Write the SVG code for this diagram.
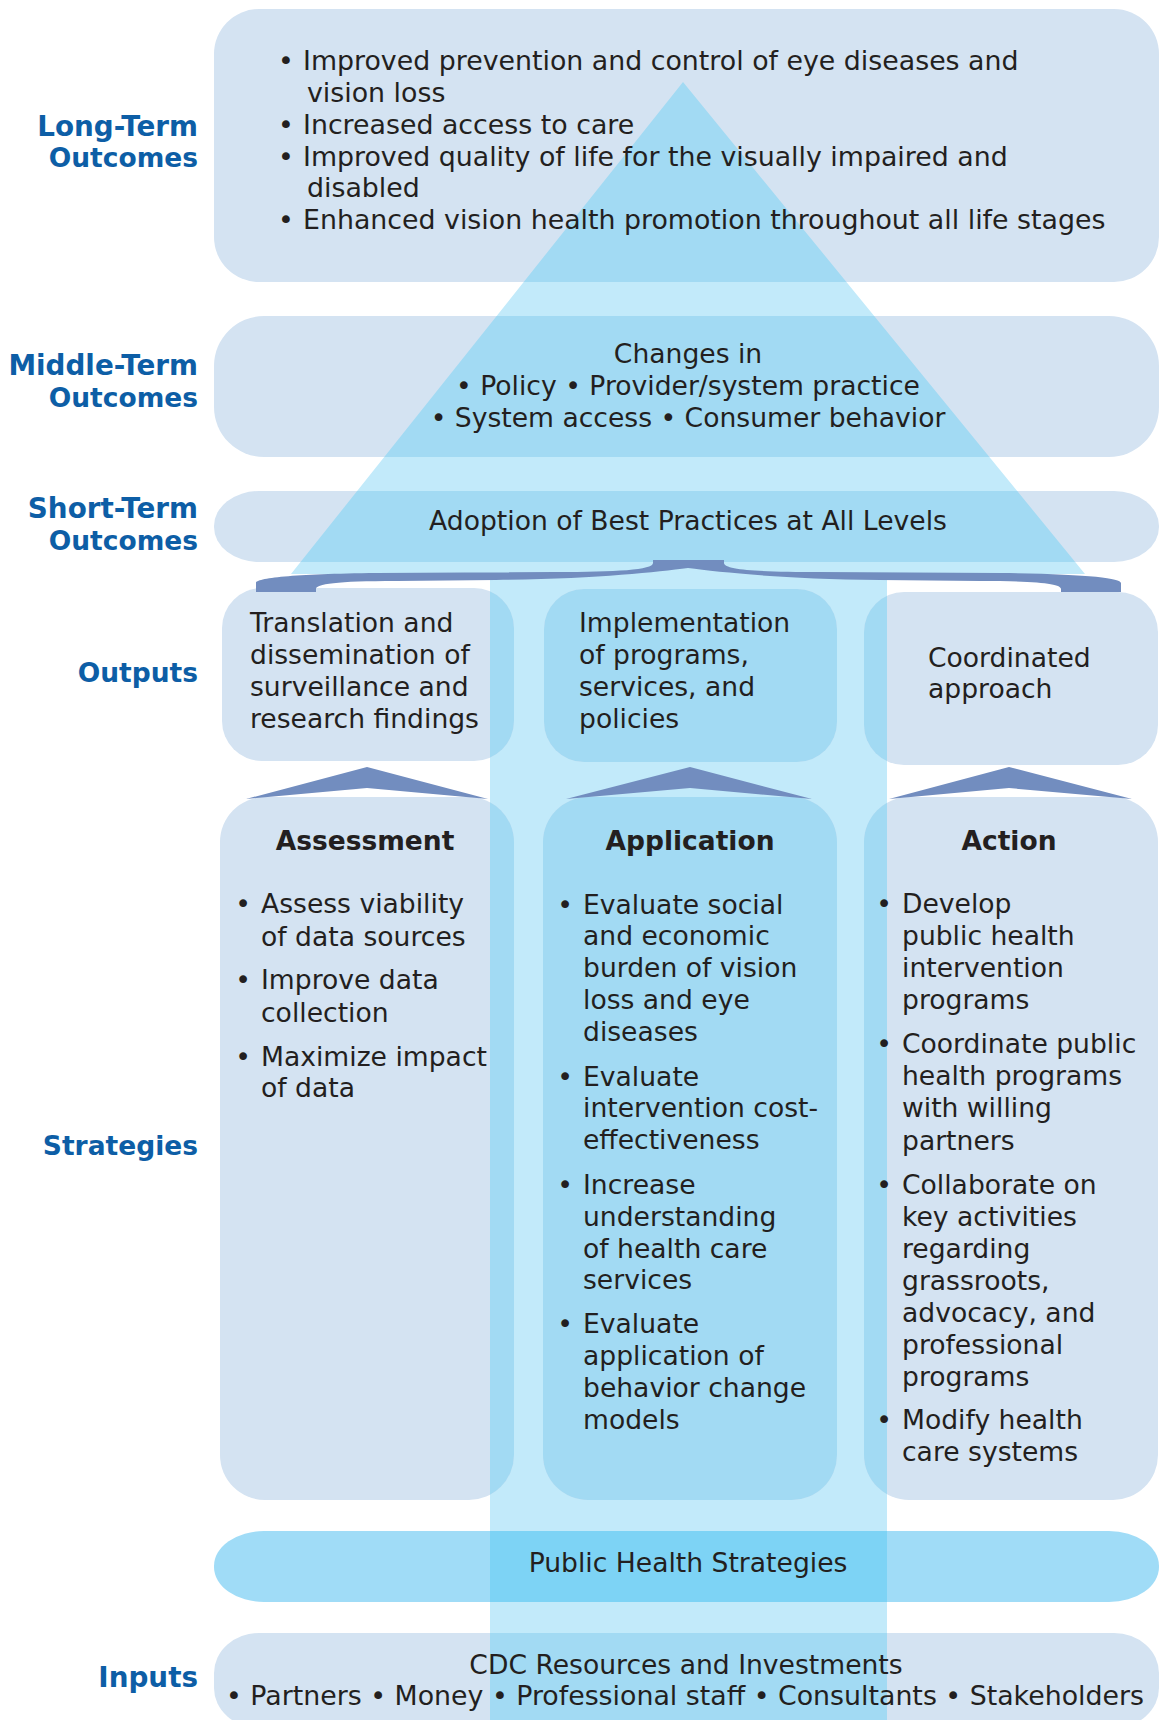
<svg xmlns="http://www.w3.org/2000/svg" xmlns:xlink="http://www.w3.org/1999/xlink" width="1160" height="1720" viewBox="0 0 1160 1720">
<style>
  .arrow { fill: #c2eafa; }
  .box { fill: #d4e3f2; }
  .ov { fill: #a2daf3; }
  .phs { fill: #a0dcf7; }
  .phsov { fill: #7dd3f5; }
  .conn { fill: #728dbf; }
  text { font-family: "DejaVu Sans", Verdana, "Liberation Sans", sans-serif; font-size: 26.6px; fill: #231f20; }
  .lbl { font-weight: bold; font-size: 27.8px; fill: #0d5ea6; text-anchor: end; }
  .lbl.n { font-size: 26.5px; }
  .hd { font-weight: bold; font-size: 26.5px; text-anchor: middle; }
  .c { text-anchor: middle; }
  .b { text-anchor: middle; }
  .wide { font-size: 26.8px; }
</style>
<defs>
  <clipPath id="arrowClip">
    <path d="M 683,82 L 1085,574 L 887,574 L 887,1720 L 490,1720 L 490,574 L 291,574 Z"/>
  </clipPath>
  <rect id="s-lt" x="214" y="9" width="945" height="273" rx="45" ry="45"/>
  <rect id="s-mt" x="214" y="316" width="945" height="141" rx="50" ry="50"/>
  <rect id="s-st" x="214" y="491" width="945" height="71" rx="45" ry="35"/>
  <rect id="s-o1" x="222" y="588" width="292" height="173" rx="40" ry="40"/>
  <rect id="s-o2" x="544" y="589" width="293" height="173" rx="40" ry="40"/>
  <rect id="s-o3" x="864" y="592" width="294" height="173" rx="40" ry="40"/>
  <rect id="s-s1" x="220" y="797" width="294" height="703" rx="45" ry="45"/>
  <rect id="s-s2" x="543" y="797" width="294" height="703" rx="45" ry="45"/>
  <rect id="s-s3" x="864" y="797" width="294" height="703" rx="45" ry="45"/>
  <rect id="s-ph" x="214" y="1531" width="945" height="71" rx="50" ry="35"/>
  <rect id="s-in" x="214" y="1633" width="945" height="95" rx="45" ry="40"/>
</defs>

<path id="arrow" class="arrow" d="M 683,82 L 1085,574 L 887,574 L 887,1720 L 490,1720 L 490,574 L 291,574 Z"/>

<text class="lbl" x="198" y="136">Long-Term</text>
<text class="lbl n" x="198" y="167">Outcomes</text>
<text class="lbl" x="198" y="375">Middle-Term</text>
<text class="lbl n" x="198" y="407">Outcomes</text>
<text class="lbl" x="198" y="518">Short-Term</text>
<text class="lbl n" x="198" y="550">Outcomes</text>
<text class="lbl n" x="198" y="682">Outputs</text>
<text class="lbl n" x="198" y="1155">Strategies</text>
<text class="lbl" x="198" y="1687">Inputs</text>

<g id="long-term">
  <use href="#s-lt" class="box"/>
  <g clip-path="url(#arrowClip)"><use href="#s-lt" class="ov"/></g>
  <text class="b wide" x="286" y="70">•</text>
  <text class="wide" x="303" y="70">Improved prevention and control of eye diseases and</text>
  <text class="wide" x="307" y="102">vision loss</text>
  <text class="b wide" x="286" y="134">•</text>
  <text class="wide" x="303" y="134">Increased access to care</text>
  <text class="b wide" x="286" y="166">•</text>
  <text class="wide" x="303" y="166">Improved quality of life for the visually impaired and</text>
  <text class="wide" x="307" y="197">disabled</text>
  <text class="b wide" x="286" y="229">•</text>
  <text class="wide" x="303" y="229">Enhanced vision health promotion throughout all life stages</text>
</g>

<g id="middle-term">
  <use href="#s-mt" class="box"/>
  <g clip-path="url(#arrowClip)"><use href="#s-mt" class="ov"/></g>
  <text class="c" x="688" y="363">Changes in</text>
  <text class="c" x="688" y="395">• Policy • Provider/system practice</text>
  <text class="c" x="688" y="427">• System access • Consumer behavior</text>
</g>

<g id="short-term">
  <use href="#s-st" class="box"/>
  <g clip-path="url(#arrowClip)"><use href="#s-st" class="ov"/></g>
  <text class="c" x="688" y="530">Adoption of Best Practices at All Levels</text>
</g>

<g id="output-translation">
  <use href="#s-o1" class="box"/>
  <g clip-path="url(#arrowClip)"><use href="#s-o1" class="ov"/></g>
  <text x="250" y="632">Translation and</text>
  <text x="250" y="664">dissemination of</text>
  <text x="250" y="696">surveillance and</text>
  <text x="250" y="728">research findings</text>
</g>

<g id="output-implementation">
  <use href="#s-o2" class="box"/>
  <g clip-path="url(#arrowClip)"><use href="#s-o2" class="ov"/></g>
  <text x="579" y="632">Implementation</text>
  <text x="579" y="664">of programs,</text>
  <text x="579" y="696">services, and</text>
  <text x="579" y="728">policies</text>
</g>

<g id="output-coordinated">
  <use href="#s-o3" class="box"/>
  <g clip-path="url(#arrowClip)"><use href="#s-o3" class="ov"/></g>
  <text x="928" y="667">Coordinated</text>
  <text x="928" y="698">approach</text>
</g>

<g id="strategy-assessment">
  <use href="#s-s1" class="box"/>
  <g clip-path="url(#arrowClip)"><use href="#s-s1" class="ov"/></g>
  <text class="hd" x="365" y="850">Assessment</text>
  <text class="b" x="243" y="913">•</text>
  <text x="261" y="913">Assess viability</text>
  <text x="261" y="946">of data sources</text>
  <text class="b" x="243" y="989">•</text>
  <text x="261" y="989">Improve data</text>
  <text x="261" y="1022">collection</text>
  <text class="b" x="243" y="1066">•</text>
  <text x="261" y="1066">Maximize impact</text>
  <text x="261" y="1097">of data</text>
</g>

<g id="strategy-application">
  <use href="#s-s2" class="box"/>
  <g clip-path="url(#arrowClip)"><use href="#s-s2" class="ov"/></g>
  <text class="hd" x="690" y="850">Application</text>
  <text class="b" x="565" y="914">•</text>
  <text x="583" y="914">Evaluate social</text>
  <text x="583" y="945">and economic</text>
  <text x="583" y="977">burden of vision</text>
  <text x="583" y="1009">loss and eye</text>
  <text x="583" y="1041">diseases</text>
  <text class="b" x="565" y="1086">•</text>
  <text x="583" y="1086">Evaluate</text>
  <text x="583" y="1117">intervention cost-</text>
  <text x="583" y="1149">effectiveness</text>
  <text class="b" x="565" y="1194">•</text>
  <text x="583" y="1194">Increase</text>
  <text x="583" y="1226">understanding</text>
  <text x="583" y="1258">of health care</text>
  <text x="583" y="1289">services</text>
  <text class="b" x="565" y="1333">•</text>
  <text x="583" y="1333">Evaluate</text>
  <text x="583" y="1365">application of</text>
  <text x="583" y="1397">behavior change</text>
  <text x="583" y="1429">models</text>
</g>

<g id="strategy-action">
  <use href="#s-s3" class="box"/>
  <g clip-path="url(#arrowClip)"><use href="#s-s3" class="ov"/></g>
  <text class="hd" x="1009" y="850">Action</text>
  <text class="b" x="884" y="913">•</text>
  <text x="902" y="913">Develop</text>
  <text x="902" y="945">public health</text>
  <text x="902" y="977">intervention</text>
  <text x="902" y="1009">programs</text>
  <text class="b" x="884" y="1053">•</text>
  <text x="902" y="1053">Coordinate public</text>
  <text x="902" y="1085">health programs</text>
  <text x="902" y="1117">with willing</text>
  <text x="902" y="1150">partners</text>
  <text class="b" x="884" y="1194">•</text>
  <text x="902" y="1194">Collaborate on</text>
  <text x="902" y="1226">key activities</text>
  <text x="902" y="1258">regarding</text>
  <text x="902" y="1290">grassroots,</text>
  <text x="902" y="1322">advocacy, and</text>
  <text x="902" y="1354">professional</text>
  <text x="902" y="1386">programs</text>
  <text class="b" x="884" y="1429">•</text>
  <text x="902" y="1429">Modify health</text>
  <text x="902" y="1461">care systems</text>
</g>

<g id="public-health-strategies">
  <use href="#s-ph" class="phs"/>
  <g clip-path="url(#arrowClip)"><use href="#s-ph" class="phsov"/></g>
  <text class="c" x="688" y="1572">Public Health Strategies</text>
</g>

<g id="inputs">
  <use href="#s-in" class="box"/>
  <g clip-path="url(#arrowClip)"><use href="#s-in" class="ov"/></g>
  <text class="c" x="686" y="1674">CDC Resources and Investments</text>
  <text class="c wide" x="685" y="1705">• Partners • Money • Professional staff • Consultants • Stakeholders</text>
</g>

<g id="connectors">
  <path class="conn" d="M 653,560 L 724,560 L 724,563 C 724,570 760,572 820,572 L 1000,573 C 1085,574 1121,578 1121,583 L 1121,592 L 1061,592 L 1061,589 C 1061,584 1040,581 980,581 L 880,580 C 780,579 720,572 688,568 C 656,572 596,579 496,580 L 396,581 C 336,581 316,584 316,589 L 316,592 L 256,592 L 256,583 C 256,578 292,574 377,573 L 556,572 C 616,572 653,570 653,563 Z"/>
  <polygon class="conn" points="246,799 367,767 488,799 367,788"/>
  <polygon class="conn" points="566,799 690,767 812,799 690,788"/>
  <polygon class="conn" points="889,799 1009,767 1132,799 1009,788"/>
</g>
</svg>
